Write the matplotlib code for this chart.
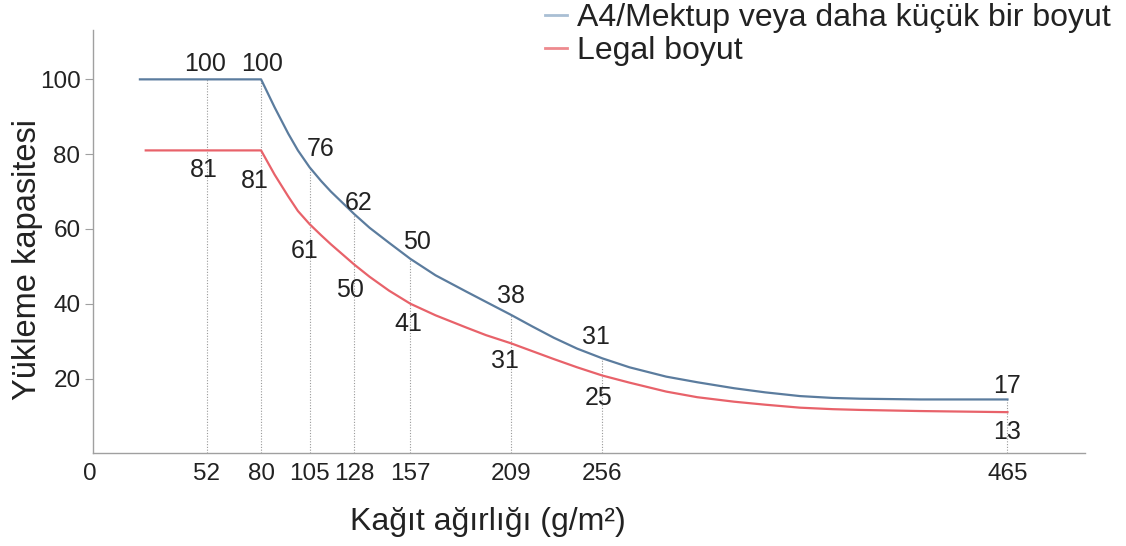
import matplotlib
matplotlib.use("Agg")
import matplotlib.pyplot as plt
from matplotlib.transforms import ScaledTranslation

plt.rcParams['font.family'] = ['Liberation Sans', 'DejaVu Sans']

# ---- data ----
tick_values = [0, 52, 80, 105, 128, 157, 209, 256, 465]
guide_x = [52, 80, 105, 128, 157, 209, 256, 465]
guide_top = [100, 100, 76.5, 64, 52, 37, 25.4, 14.4]

a4_x = [17.5, 80, 87, 94, 99, 105, 111, 116, 122, 128, 136, 146, 157, 170, 186, 196,
        209, 220, 231, 243, 256, 270, 289, 305, 324, 340, 358, 375, 389, 420, 465]
a4_y = [100, 100, 92.5, 85.5, 81, 76.5, 72.8, 70, 67, 64, 60.3, 56.3, 52, 47.6, 43.2, 40.5,
        37, 33.9, 30.9, 28.0, 25.4, 23.0, 20.5, 19.0, 17.4, 16.3, 15.3, 14.8, 14.6, 14.4, 14.4]

legal_x = [20.5, 80, 87, 94, 99, 105, 111, 116, 122, 128, 136, 146, 157, 170, 186, 196,
           209, 220, 231, 243, 256, 270, 289, 305, 324, 340, 358, 375, 389, 420, 465]
legal_y = [81, 81, 74.5, 68.7, 64.8, 61.3, 58.3, 55.9, 53.2, 50.5, 47.2, 43.5, 40.0, 36.9, 33.6, 31.6,
           29.4, 27.3, 25.2, 23.0, 20.8, 18.9, 16.5, 15.0, 13.8, 13.0, 12.2, 11.8, 11.6, 11.3, 11.0]

a4_labels = [100, 100, 76, 62, 50, 38, 31, 17]
legal_labels = [81, 81, 61, 50, 41, 31, 25, 13]

series_names = ["A4/Mektup veya daha küçük bir boyut", "Legal boyut"]
xlabel = "Kağıt ağırlığı (g/m²)"
ylabel = "Yükleme kapasitesi"
y_ticks = [20, 40, 60, 80, 100]

# ---- style ----
blue = '#5b7c9e'
red = '#e8626a'
txt = '#222222'
axis_col = '#a0a0a0'

a4_offsets = [(-2, 15), (1, 15), (11, 20), (4, 18), (7, 24), (0, 15), (-6, 0), (0, 4)]
legal_offsets = [(-3, -20), (-6, -31), (-5, -26), (-4, -24), (-2, -24), (-6, -24), (-4, -38), (0, -27)]

fig = plt.figure(figsize=(11.26, 5.46), dpi=100)
ax = fig.add_axes([93 / 1126, (546 - 453.3) / 546, (1085 - 93) / 1126, (453.3 - 30) / 546])

ax.vlines(guide_x, 0, guide_top, colors='#9a9a9a', linestyles=(0, (1, 1.5)), linewidth=0.8, zorder=1)

ax.plot(a4_x, a4_y, color=blue, lw=1.6, zorder=3, solid_joinstyle='round')
ax.plot(legal_x, legal_y, color=red, lw=1.6, zorder=3, solid_joinstyle='round')

for x, v, off in zip(guide_x, a4_labels, a4_offsets):
    ax.annotate(str(v), (x, v), xytext=off, textcoords='offset pixels',
                ha='center', va='center', fontsize=18, color=txt, zorder=4)
for x, v, off in zip(guide_x, legal_labels, legal_offsets):
    ax.annotate(str(v), (x, v), xytext=off, textcoords='offset pixels',
                ha='center', va='center', fontsize=18, color=txt, zorder=4)

ax.set_xlim(-6.7, 505)
ax.set_ylim(0, 113.2)
ax.set_xticks(tick_values)
ax.set_xticklabels([str(t) for t in tick_values])
ax.set_yticks(y_ticks)
ax.set_yticklabels([str(t) for t in y_ticks])
ax.tick_params(axis='x', length=0, pad=7, labelsize=17.5, labelcolor=txt)
ax.tick_params(axis='y', length=6, width=0.8, color=axis_col, pad=3, labelsize=17.5, labelcolor=txt)
# shift the "0" label to the axis corner
lab0 = ax.get_xticklabels()[0]
lab0.set_transform(lab0.get_transform() + ScaledTranslation(-0.16, 0, fig.dpi_scale_trans))

for s in ['top', 'right']:
    ax.spines[s].set_visible(False)
for s in ['left', 'bottom']:
    ax.spines[s].set_color(axis_col)
    ax.spines[s].set_linewidth(1.0)

fig.text(350 / 1126, 1 - 522 / 546, xlabel, ha='left', va='center', fontsize=23, color=txt)
fig.text(28 / 1126, 1 - 260 / 546, ylabel, ha='center', va='center', rotation=90, fontsize=23.5, color=txt)

h1, = ax.plot([], [], color='#a9bfd4', lw=2)
h2, = ax.plot([], [], color='#ee8a8e', lw=2)
fig.legend([h1, h2], series_names, loc='upper left', bbox_to_anchor=(545 / 1126, 1 - 3 / 546),
           frameon=False, fontsize=23, handlelength=0.7, handletextpad=0.3,
           labelspacing=0.1, borderpad=0, borderaxespad=0, labelcolor=txt)

fig.savefig('out.png', dpi=100)
